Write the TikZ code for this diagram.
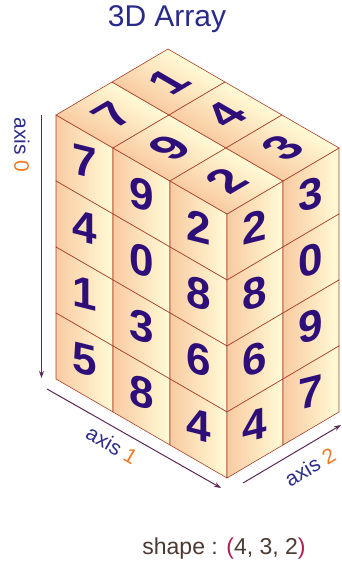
\documentclass[tikz,border=0pt]{standalone}
\usepackage{fontspec}
\setmainfont{Liberation Sans}
\usetikzlibrary{arrows.meta}
\definecolor{edgec}{HTML}{A8402A}
\definecolor{digitc}{HTML}{2E0E78}
\definecolor{peach}{HTML}{F9CBA2}
\definecolor{pale}{HTML}{FFF8C8}
\definecolor{paler}{HTML}{FFFBD6}
\definecolor{titleblue}{HTML}{2A2A8C}
\definecolor{axblue}{HTML}{2D2D8F}
\definecolor{axorange}{HTML}{F07A28}
\definecolor{arrowc}{HTML}{5A2A55}
\definecolor{shapec}{HTML}{4B3A32}
\definecolor{parc}{HTML}{B02050}
\tikzset{
  cellbox/.style={left color=peach, middle color=pale, right color=paler, draw=edgec, line width=0.7pt},
  dig/.style={text=digitc, font=\fontsize{44}{44}\selectfont\bfseries, inner sep=0pt},
  axisarrow/.style={draw=arrowc, line width=1pt, -{Stealth[length=7pt,width=5pt]}},
  axlab/.style={text=axblue, font=\fontsize{21}{21}\selectfont, inner sep=0pt},
}
\begin{document}
\begin{tikzpicture}[x=1pt,y=1pt]
\useasboundingbox (0,0) rectangle (342,562);
% left face cells
\begin{scope}[transform canvas={cm={0.8655,-0.501,0,1,(56,183)}}]
  \foreach \row in {0,...,3}{
    \foreach \c in {0,1,2}{
      \path[cellbox] (\c*65.86,{(3-\row)*66}) rectangle ({(\c+1)*65.86},{(4-\row)*66});
    }
  }
\end{scope}
% right face cells
\begin{scope}[transform canvas={cm={0.8615,0.5077,0,1,(227,84)}}]
  \foreach \row in {0,...,3}{
    \foreach \c in {0,1}{
      \path[cellbox] (\c*65,{(3-\row)*66}) rectangle ({(\c+1)*65},{(4-\row)*66});
    }
  }
\end{scope}
% top face cells and digits
\begin{scope}[transform canvas={cm={0.8615,0.5077,-0.8655,0.501,(227,348)}}]
  \foreach \i/\vals in {0/{7,1},1/{9,4},2/{2,3}}{
    \foreach \v [count=\c from 0] in \vals {
      \path[cellbox] (\c*65,{(2-\i)*65.86}) rectangle ({(\c+1)*65},{(3-\i)*65.86});
      \node[dig, font=\fontsize{47}{47}\selectfont\bfseries] (T\i\c) at ({(\c+0.5)*65},{(2.5-\i)*65.86}) {\v};
    }
  }
\end{scope}
% left face digits
\foreach \row/\vals in {0/{7,9,2},1/{4,0,8},2/{1,3,6},3/{5,8,4}}{
  \foreach \v [count=\c from 0] in \vals {
    \node[dig, yslant=-0.25] (L\row\c) at ({56+57*(\c+0.5)},{447-33*(\c+0.5)-66*(\row+0.5)+3}) {\v};
  }
}
% right face digits
\foreach \row/\vals in {0/{2,3},1/{8,0},2/{6,9},3/{4,7}}{
  \foreach \v [count=\c from 0] in \vals {
    \node[dig, yslant=0.25] (R\row\c) at ({227+56*(\c+0.5)},{348+33*(\c+0.5)-66*(\row+0.5)+3}) {\v};
  }
}
% axes
\coordinate (a0s) at (41.5,447);
\coordinate (a0e) at (41.5,184);
\draw[axisarrow] (a0s) -- (a0e);
\coordinate (a1s) at (47,173);
\coordinate (a1e) at (221,74);
\draw[axisarrow] (a1s) -- (a1e);
\coordinate (a2s) at (243,79);
\coordinate (a2e) at (341,137);
\draw[axisarrow] (a2s) -- (a2e);
\node[axlab, rotate=-90] (lab0) at (22,417) {axis {\color{axorange}0}};
\node[axlab, rotate=-30] (lab1) at (112,117) {axis {\color{axorange}1}};
\node[axlab, rotate=30] (lab2) at (310,95) {axis {\color{axorange}2}};
% title and shape
\node[anchor=base, text=titleblue, font=\fontsize{30}{30}\selectfont, inner sep=0pt] (title) at (167,535) {3D Array};
\node[anchor=base, text=shapec, font=\fontsize{23}{23}\selectfont, inner sep=0pt] (shape) at (224,8) {shape : {\color{parc}(}4, 3, 2{\color{parc})}};
\end{tikzpicture}
\end{document}
